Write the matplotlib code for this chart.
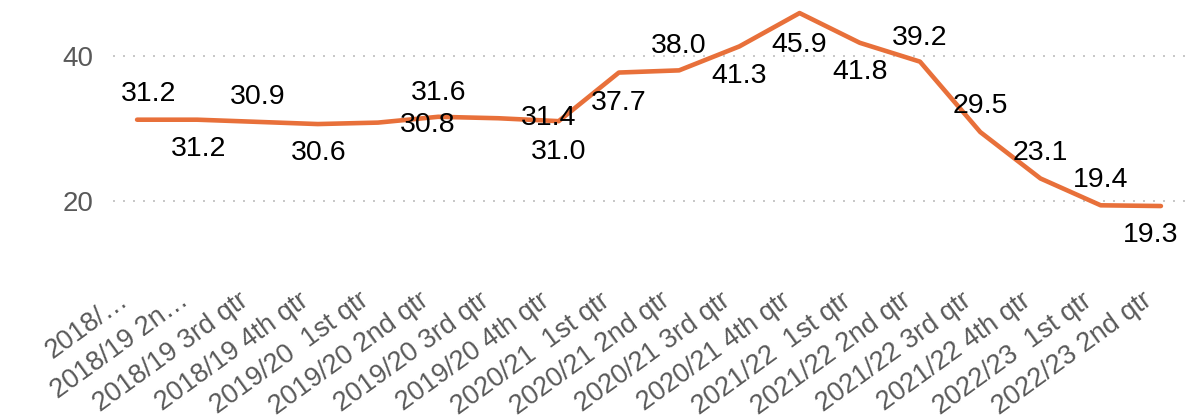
import matplotlib
matplotlib.use("Agg")
import matplotlib.pyplot as plt
from matplotlib.transforms import ScaledTranslation

plt.rcParams['font.family'] = ['Liberation Sans', 'DejaVu Sans']

quarters = ["2018/…", "2018/19 2n…", "2018/19 3rd qtr", "2018/19 4th qtr",
            "2019/20  1st qtr", "2019/20 2nd qtr", "2019/20 3rd qtr", "2019/20 4th qtr",
            "2020/21  1st qtr", "2020/21 2nd qtr", "2020/21 3rd qtr", "2020/21 4th qtr",
            "2021/22  1st qtr", "2021/22 2nd qtr", "2021/22 3rd qtr", "2021/22 4th qtr",
            "2022/23  1st qtr", "2022/23 2nd qtr"]
values = [31.2, 31.2, 30.9, 30.6, 30.8, 31.6, 31.4, 31.0, 37.7, 38.0,
          41.3, 45.9, 41.8, 39.2, 29.5, 23.1, 19.4, 19.3]

# label offsets in pixels (dx, dy), mimicking the original placement
label_offsets = [(11, 26), (1, -29), (0, 25), (1, -29), (50, -2), (0, 24),
                 (50, 0), (0, -31), (0, -30), (0, 24), (0, -30), (0, -32),
                 (0, -29), (0, 24), (0, 26), (0, 25), (0, 25), (-10, -29)]

fig = plt.figure(figsize=(11.97, 4.19), dpi=100)
ax = fig.add_axes([113 / 1197, 164 / 419, 1072 / 1197, 255 / 419])

x = list(range(len(values)))
ax.plot(x, values, color='#E8703A', linewidth=3.3, solid_capstyle='round',
        solid_joinstyle='round', clip_on=False, zorder=3)

for xi, v, (dx, dy) in zip(x, values, label_offsets):
    ax.annotate(f"{v:.1f}", (xi, v), xytext=(dx, dy), textcoords='offset pixels',
                ha='center', va='center', fontsize=20.5, color='black', zorder=4)

ax.set_xlim(-0.4, 17.4)
ax.set_ylim(12.55, 47.7)
ax.set_yticks([20, 40])
ax.yaxis.grid(True, linestyle=(0, (1, 4)), color='#C8C8C8', linewidth=1.44)
ax.set_axisbelow(True)
for s in ax.spines.values():
    s.set_visible(False)

ax.tick_params(axis='y', length=0, pad=14, labelsize=20, labelcolor='#595959')
ax.tick_params(axis='x', length=0, pad=31, labelsize=19.5, labelcolor='#595959')
ax.set_xticks(x)
ax.set_xticklabels(quarters, rotation=36, ha='right', va='center', rotation_mode='anchor')
shift = ScaledTranslation(-0.12, 0, fig.dpi_scale_trans)
for lab in ax.get_xticklabels():
    lab.set_transform(lab.get_transform() + shift)

fig.savefig("out.png", dpi=100)
